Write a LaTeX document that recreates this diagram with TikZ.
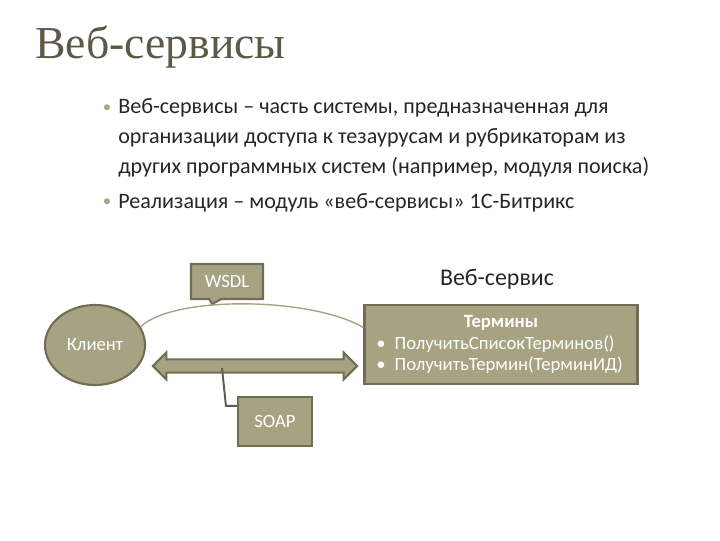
\documentclass[tikz,border=0pt]{standalone}
\usepackage{fontspec}
\setmainfont{Carlito}
\newfontfamily\headfont{Liberation Serif}
\usetikzlibrary{positioning, shapes.arrows, shapes.callouts, shapes.geometric, calc}
\definecolor{cfill}{HTML}{A6A282}
\definecolor{cedge}{HTML}{716D55}
\definecolor{chead}{HTML}{5E5947}
\definecolor{ctext}{HTML}{262626}
\definecolor{cbullet}{HTML}{A9A685}
\definecolor{cline}{HTML}{5F5C4A}
\tikzset{
  panel/.style={draw=cedge, fill=cfill, line width=1.5pt, text=white, font=\fontsize{13.3}{15}\selectfont},
  head/.style={font=\headfont\fontsize{32.5}{38}\selectfont, text=chead, inner sep=0pt},
  para/.style={font=\fontsize{15.7}{21}\selectfont, text=ctext, align=left, inner sep=0pt},
  dot/.style={font=\fontsize{12}{14}\selectfont, text=cbullet, inner sep=0pt},
  link/.style={double arrow, panel, minimum height=5.1cm, minimum width=0.62cm,
    inner xsep=0pt, inner ysep=0.14cm, text height=0pt, text depth=0pt, double arrow head extend=0.17cm},
  arcline/.style={draw=cfill, line width=1pt},
  callline/.style={draw=cline, line width=1.4pt},
}
\begin{document}
\begin{tikzpicture}[x={(0.025cm,0)}, y={(0,-0.025cm)}]
  \useasboundingbox (0,0) rectangle (720,540);

  % heading and text
  \node[head, anchor=base west] (title) at (35,58) {Веб-сервисы};
  \node[dot, anchor=base] (dot1) at (107,112) {•};
  \node[para, anchor=base west] (item1) at (118,173)
    {Веб-сервисы – часть системы, предназначенная для\\организации доступа к тезаурусам и рубрикаторам из\\других программных систем (например, модуля поиска)};
  \node[dot, anchor=base] (dot2) at (107,206) {•};
  \node[para, anchor=base west] (item2) at (118,208) {Реализация – модуль «веб-сервисы» 1С-Битрикс};

  % diagram
  \node[anchor=base, font=\fontsize{17}{20}\selectfont, text=ctext] (svclabel) at (497,285) {Веб-сервис};
  \node[panel, ellipse, minimum width=2.5cm, minimum height=2cm] (client) at (95,345) {Клиент};
  \node[panel, rectangle, minimum width=6.825cm, minimum height=1.975cm, text width=6.225cm,
    inner xsep=0.3cm, align=left] (service) at (501,344.5)
    {\makebox[\linewidth]{\textbf{Термины}}\\
     \makebox[13pt][l]{•}ПолучитьСписокТерминов()\\
     \makebox[13pt][l]{•}ПолучитьТермин(ТерминИД)};
  \node[panel, rectangle callout, minimum width=1.8cm, minimum height=0.875cm,
    callout absolute pointer={(212,304)}, callout pointer width=0.3cm] (wsdl) at (227,281.5) {WSDL};
  \node[panel, rectangle, minimum width=1.85cm, minimum height=1.225cm] (soap) at (275,421.5) {SOAP};
  \node[link] (msg) at (255,366) {};
  \coordinate (soaptip) at (222,368);

  \draw[arcline] (client.22) .. controls +(35,-32) and +(-50,-30) .. (service.173);
  \draw[callline] ([yshift=-0.25cm]soap.north west) -- ++(-11,0) -- (soaptip);
\end{tikzpicture}
\end{document}
